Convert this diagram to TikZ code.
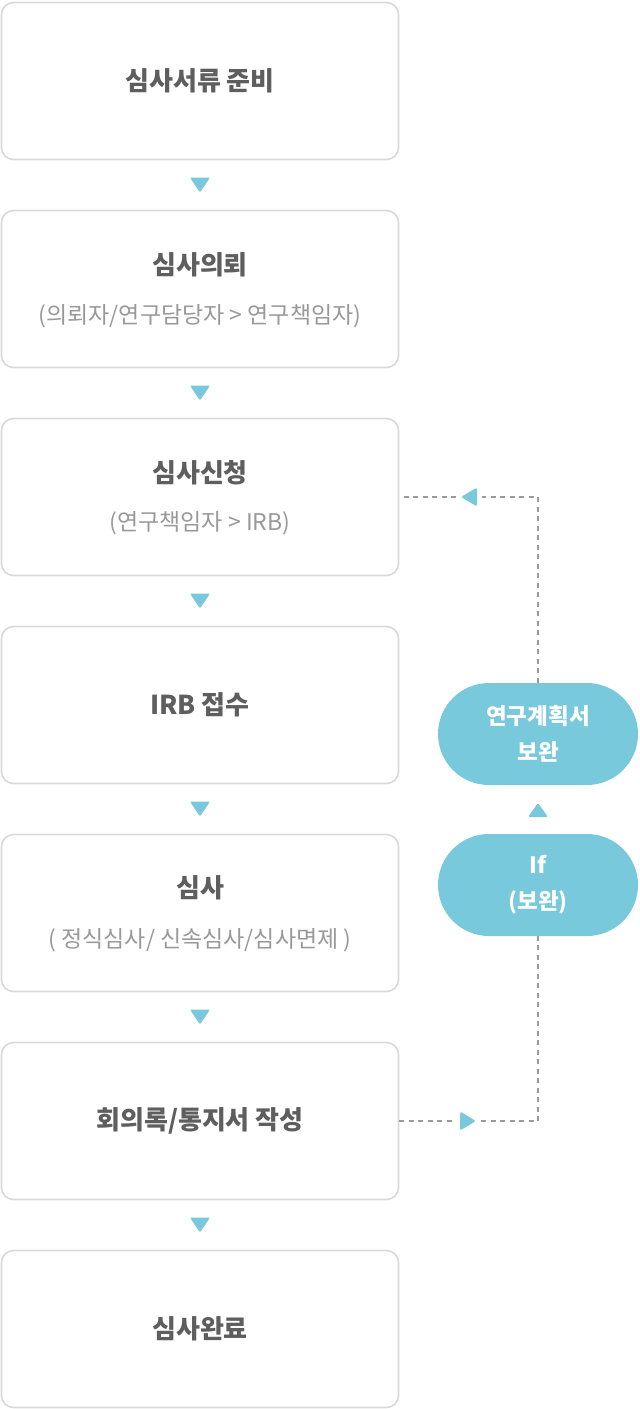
\documentclass[tikz,border=0pt]{standalone}
\usepackage{fontspec}
\newfontfamily\kr{Noto Sans CJK KR}
\usetikzlibrary{calc}
\definecolor{boxgray}{HTML}{D9D9D9}
\definecolor{titlegray}{HTML}{5E5E5E}
\definecolor{subgray}{HTML}{999999}
\definecolor{tealc}{HTML}{77C9DB}
\definecolor{dashgray}{HTML}{9A9A9A}
\tikzset{
  stepbox/.style={draw=boxgray, line width=1.6pt, rounded corners=12pt, minimum width=397pt, minimum height=157pt, inner sep=0pt, fill=white},
  ttl/.style={font=\kr\bfseries\fontsize{26}{30}\selectfont, text=titlegray, inner sep=0pt},
  sub/.style={font=\kr\fontsize{23}{26}\selectfont, text=subgray, inner sep=0pt},
  pill/.style={fill=tealc, draw=none, rounded corners=51pt, minimum width=200pt, minimum height=102pt, inner sep=0pt, align=center, text=white, font=\kr\bfseries\fontsize{22.5}{36}\selectfont},
  dashline/.style={draw=dashgray, line width=1.5pt, dash pattern=on 5pt off 4.5pt},
  tri/.style={fill=tealc, rounded corners=1.5pt}
}
\newcommand{\downtri}[1]{\fill[tri] ($(#1)+(-10,-7.5)$) -- ($(#1)+(10,-7.5)$) -- ($(#1)+(0,7.5)$) -- cycle;}
\newcommand{\uptri}[1]{\fill[tri] ($(#1)+(-10,7)$) -- ($(#1)+(10,7)$) -- ($(#1)+(0,-7)$) -- cycle;}
\newcommand{\lefttri}[1]{\fill[tri] ($(#1)+(8,-9.5)$) -- ($(#1)+(8,9.5)$) -- ($(#1)+(-8,0)$) -- cycle;}
\newcommand{\righttri}[1]{\fill[tri] ($(#1)+(-8,-9.5)$) -- ($(#1)+(-8,9.5)$) -- ($(#1)+(8,0)$) -- cycle;}
\begin{document}
\begin{tikzpicture}[x=1pt,y=-1pt]
\useasboundingbox (0,0) rectangle (640,1409);
% boxes
\node[stepbox] (b1) at (200,81) {};
\node[stepbox] (b2) at (200,289) {};
\node[stepbox] (b3) at (200,497) {};
\node[stepbox] (b4) at (200,705) {};
\node[stepbox] (b5) at (200,913) {};
\node[stepbox] (b6) at (200,1121) {};
\node[stepbox] (b7) at (200,1329) {};
% texts
\node[ttl] (b1t) at (200,81) {심사서류 준비};
\node[ttl] (b2t) at (200,265) {심사의뢰};
\node[sub] (b2s) at (200,316) {(의뢰자/연구담당자 > 연구책임자)};
\node[ttl] (b3t) at (200,473) {심사신청};
\node[sub] (b3s) at (200,523) {(연구책임자 > IRB)};
\node[ttl] (b4t) at (200,705) {IRB 접수};
\node[ttl] (b5t) at (200,888) {심사};
\node[sub] (b5s) at (200,940) {( 정식심사/ 신속심사/심사면제 )};
\node[ttl] (b6t) at (200,1121) {회의록/통지서 작성};
\node[ttl] (b7t) at (200,1329) {심사완료};
% down triangles
\coordinate (d1) at (200,185);
\coordinate (d2) at (200,393);
\coordinate (d3) at (200,601);
\coordinate (d4) at (200,809);
\coordinate (d5) at (200,1017);
\coordinate (d6) at (200,1225);
\downtri{d1}\downtri{d2}\downtri{d3}\downtri{d4}\downtri{d5}\downtri{d6}
% pills
\node[pill] (p1) at (538,734) {연구계획서\\보완};
\node[pill] (p2) at (538,885) {If\\(보완)};
\coordinate (u1) at (538,810);
\uptri{u1}
% feedback loop
\coordinate (rt) at (468,1121);
\coordinate (lt) at (469,497);
\draw[dashline, shorten >=13pt] (b6.east) -- (rt);
\draw[dashline, shorten <=13pt] (rt) -- (rt -| p2.south) -- (p2.south);
\draw[dashline, shorten >=13pt] (p1.north) -- (p1.north |- lt) -- (lt);
\draw[dashline, shorten <=13pt] (lt) -- (b3.east);
\righttri{rt}
\lefttri{lt}
\end{tikzpicture}
\end{document}
